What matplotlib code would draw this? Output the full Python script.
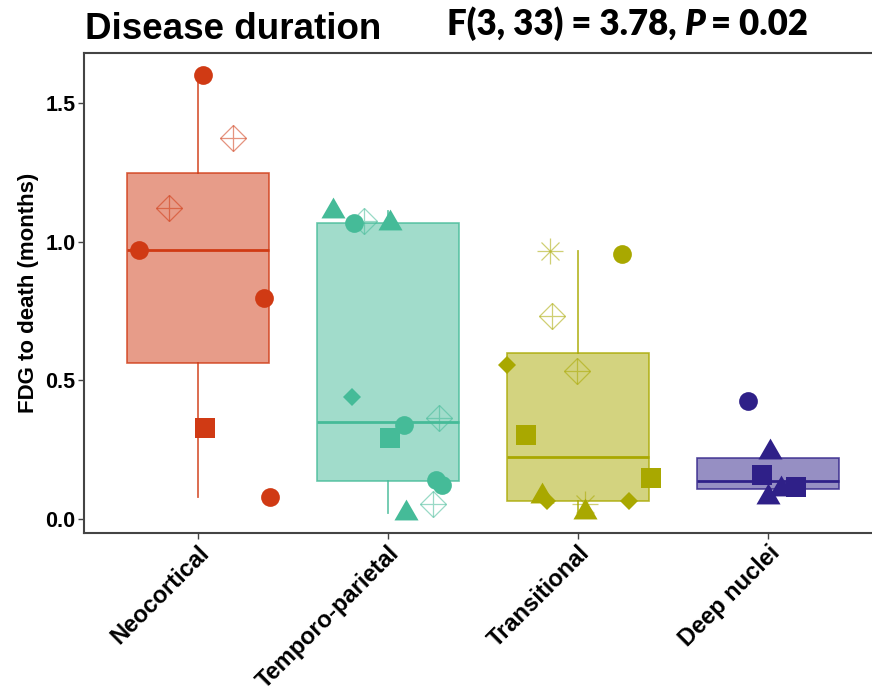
import numpy as np
import matplotlib
matplotlib.use("Agg")
import matplotlib.pyplot as plt
from matplotlib.colors import to_rgba

plt.rcParams["font.family"] = ["Liberation Sans", "DejaVu Sans"]

# ======================================================
# DATA
# ======================================================
groups = ["Neocortical", "Temporo-parietal", "Transitional", "Deep nuclei"]
colors = ["#d03a14", "#45bb98", "#a9a800", "#2f2088"]

# FDG-to-death interval (months), point shape and horizontal jitter per patient
neo_vals = [1.599, 1.373, 1.122, 0.970, 0.798, 0.330, 0.079]
neo_shape = ["circle", "open_diamond", "open_diamond", "circle", "circle", "square", "circle"]
neo_jit = [0.027, 0.182, -0.155, -0.312, 0.348, 0.036, 0.378]

tp_vals = [1.111, 1.066, 1.076, 1.069, 0.440, 0.339, 0.364, 0.291, 0.140, 0.123, 0.053, 0.021]
tp_shape = ["triangle", "circle", "open_diamond", "triangle", "diamond", "circle",
            "open_diamond", "square", "circle", "circle", "open_diamond", "triangle"]
tp_jit = [-0.29, -0.18, -0.124, 0.008, -0.19, 0.083, 0.266, 0.008, 0.254, 0.285, 0.238, 0.097]

tr_vals = [0.968, 0.956, 0.733, 0.533, 0.555, 0.303, 0.148, 0.085, 0.065, 0.053, 0.026, 0.065]
tr_shape = ["asterisk", "circle", "open_diamond", "open_diamond", "diamond", "square",
            "square", "triangle", "diamond", "asterisk", "triangle", "diamond"]
tr_jit = [-0.148, 0.229, -0.136, -0.003, -0.373, -0.275, 0.382, -0.192, -0.161, 0.039, 0.039, 0.267]

dn_vals = [0.426, 0.241, 0.158, 0.108, 0.114, 0.079]
dn_shape = ["circle", "triangle", "square", "triangle", "square", "triangle"]
dn_jit = [-0.105, 0.012, -0.032, 0.07, 0.147, -0.002]

all_vals = [neo_vals, tp_vals, tr_vals, dn_vals]
all_shape = [neo_shape, tp_shape, tr_shape, dn_shape]
all_jit = [neo_jit, tp_jit, tr_jit, dn_jit]

title = "Disease duration"
ylabel = "FDG to death (months)"

# triangle with its centroid on the data point
TRI = [(0, 1), (0.866, -0.5), (-0.866, -0.5), (0, 1)]


def draw_point(ax, x, y, shape, color):
    if shape == "circle":
        ax.plot(x, y, "o", ms=13.5, color=color, mew=0, zorder=5)
    elif shape == "square":
        ax.plot(x, y, "s", ms=13.8, color=color, mew=0, zorder=5)
    elif shape == "triangle":
        ax.plot(x, y, marker=TRI, ms=20, color=color, mew=0, ls="none", zorder=5)
    elif shape == "diamond":
        ax.plot(x, y, "D", ms=9.3, color=color, mew=0, zorder=5)
    elif shape == "open_diamond":
        ax.plot(x, y, "D", ms=13.6, mfc="none", mec=color, mew=0.9, alpha=0.55, zorder=5)
        ax.plot(x, y, "+", ms=19.2, mec=color, mew=0.9, alpha=0.55, zorder=5)
    elif shape == "asterisk":
        ax.plot(x, y, "+", ms=19, mec=color, mew=0.9, alpha=0.55, zorder=5)
        ax.plot(x, y, "x", ms=13.5, mec=color, mew=0.9, alpha=0.55, zorder=5)


# ======================================================
# FIGURE
# ======================================================
fig = plt.figure(figsize=(8.72, 6.91), dpi=100)
ax = fig.add_axes([84 / 872, 158 / 691, 798 / 872, 480 / 691])

pos = np.arange(1, len(groups) + 1)
bp = ax.boxplot(all_vals, positions=pos, widths=0.75, whis=1.5, showfliers=False,
                showcaps=False, patch_artist=True)

for i, c in enumerate(colors):
    edge = to_rgba(c, 0.8)
    bp["boxes"][i].set(facecolor=to_rgba(c, 0.5), edgecolor=edge, linewidth=1.2, zorder=2)
    bp["medians"][i].set(color=c, linewidth=2.0, zorder=3)
    for w in bp["whiskers"][2 * i:2 * i + 2]:
        w.set(color=edge, linewidth=1.3, zorder=1)

for i in range(len(groups)):
    for v, s, j in zip(all_vals[i], all_shape[i], all_jit[i]):
        draw_point(ax, pos[i] + j, v, s, colors[i])

ax.set_xlim(0.4, 4.6)
ax.set_ylim(-0.05, 1.68)
ax.set_yticks([0.0, 0.5, 1.0, 1.5])
ax.set_yticklabels(["0.0", "0.5", "1.0", "1.5"], fontsize=15.5, fontweight="bold")
ax.set_xticks(pos)
ax.set_xticklabels(groups, rotation=45, ha="right", va="top", rotation_mode="anchor",
                   fontsize=17, fontweight="bold")
ax.tick_params(axis="both", length=4, width=1, color="#444444", pad=2)

for side in ["left", "top", "bottom", "right"]:
    ax.spines[side].set_color("#444444")
    ax.spines[side].set_linewidth(1.5)

ax.set_ylabel(ylabel, fontsize=16, fontweight="bold")
ax.yaxis.set_label_coords(-0.056, 0.5)

# title and ANOVA result
fig.text(85 / 872, 1 - 39 / 691, title, fontsize=26.5, fontweight="bold", va="baseline")

fig.canvas.draw()
r = fig.canvas.get_renderer()
sty = dict(fontsize=25, fontweight="heavy", family=["Lato", "DejaVu Sans"], va="baseline")
yb = 1 - 35 / 691
t1 = fig.text(447 / 872, yb, "F(3, 33) = 3.78,", **sty)
x1 = t1.get_window_extent(r).x1 + 7
t2 = fig.text(x1 / 872, yb, "P", style="italic", **sty)
x2 = t2.get_window_extent(r).x1 + 7
fig.text(x2 / 872, yb, "= 0.02", **sty)

fig.savefig("out.png", dpi=100)
